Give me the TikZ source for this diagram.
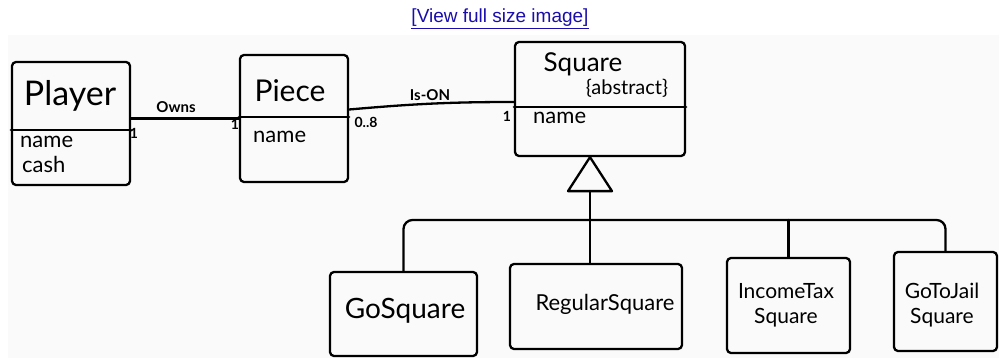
\documentclass[tikz,border=0pt]{standalone}
\usepackage{fontspec}
\setmainfont{Lato}
\newfontfamily\linkfont{Liberation Sans}
\usetikzlibrary{calc}
\definecolor{linkblue}{HTML}{1A0DAB}
\definecolor{paper}{HTML}{FAFAFA}
\begin{document}
\begin{tikzpicture}[x=1pt,y=-1pt,
  ink/.style={line width=2.3pt, line cap=round, line join=round},
  box/.style={draw, ink, rounded corners=4pt, inner sep=0pt},
  txt/.style={inner sep=0pt, font=#1},
  txt/.default={\fontsize{22}{24}\selectfont}]
\useasboundingbox (0,0) rectangle (999,358);
\fill[paper] (8,35) rectangle (999,358);
% link
\node[inner sep=0pt, text=linkblue, font=\linkfont\fontsize{19}{21}\selectfont] (link) at (500,19) {\underline{[View full size image]}};
% boxes
\node[box, minimum width=118pt, minimum height=123pt] (player) at (71,123.5) {};
\node[box, minimum width=108pt, minimum height=127pt] (piece) at (294,118.5) {};
\node[box, minimum width=170pt, minimum height=114pt] (square) at (600,99) {};
\node[box, minimum width=147pt, minimum height=84pt] (go) at (403.5,314) {};
\node[box, minimum width=172pt, minimum height=85pt] (regular) at (596,306.5) {};
\node[box, minimum width=123pt, minimum height=95pt] (income) at (788.5,305.5) {};
\node[box, minimum width=103pt, minimum height=99pt] (jail) at (945.5,301.5) {};
% dividers
\draw[ink] (player.west |- 0,130) -- (player.east |- 0,130);
\draw[ink] (piece.west |- 0,117) -- (piece.east |- 0,117);
\draw[ink] (square.west |- 0,107) -- (square.east |- 0,107);
% texts
\node[txt={\fontsize{34}{36}\selectfont}] (tplayer) at (70,96) {Player};
\node[txt, anchor=west] (tpname) at (20,142) {name};
\node[txt, anchor=west] (tpcash) at (22,164) {cash};
\node[txt={\fontsize{30}{32}\selectfont}] (tpiece) at (290,91) {Piece};
\node[txt, anchor=west] (tpiname) at (253,137) {name};
\node[txt={\fontsize{26}{28}\selectfont}] (tsquare) at (583,64) {Square};
\node[txt={\fontsize{20}{22}\selectfont}] (tabs) at (627,88) {\{abstract\}};
\node[txt, anchor=west] (tsname) at (533,118) {name};
\node[txt={\fontsize{28}{30}\selectfont}] (tgo) at (405,311) {GoSquare};
\node[txt] (treg) at (605,304) {RegularSquare};
\node[txt={\fontsize{21}{25}\selectfont}, align=center] (tinc) at (786,305) {IncomeTax\\Square};
\node[txt={\fontsize{21}{25}\selectfont}, align=center] (tjail) at (942,305) {GoToJail\\Square};
% associations
\draw[ink] (player.east |- piece.west) -- (piece.west);
\draw[ink] ([yshift=9pt]piece.east) to[out=5,in=180] ([yshift=-3pt]square.west);
\node[txt={\bfseries\fontsize{15}{17}\selectfont}] (owns) at (176,107) {Owns};
\node[txt={\bfseries\fontsize{14}{16}\selectfont}] (m1) at (134,133) {1};
\node[txt={\bfseries\fontsize{14}{16}\selectfont}] (m2) at (235,124) {1};
\node[txt={\bfseries\fontsize{15}{17}\selectfont}] (ison) at (430,95) {Is-ON};
\node[txt={\bfseries\fontsize{14}{16}\selectfont}] (m3) at (366,122) {0..8};
\node[txt={\bfseries\fontsize{14}{16}\selectfont}] (m4) at (507,116) {1};
% generalization
\coordinate (apex) at ([xshift=-10pt]square.south);
\draw[ink] (apex) -- ++(-22,34) -- ++(44,0) -- cycle;
\coordinate (tribase) at ($(apex)+(0,34)$);
\coordinate (bar) at (590,220);
\draw[ink] (tribase) -- (tribase |- regular.north);
\draw[ink, rounded corners=9pt] (go.north) |- (bar) -| (jail.north);
\draw[ink] (income.north) -- (income.north |- bar);
\end{tikzpicture}
\end{document}
